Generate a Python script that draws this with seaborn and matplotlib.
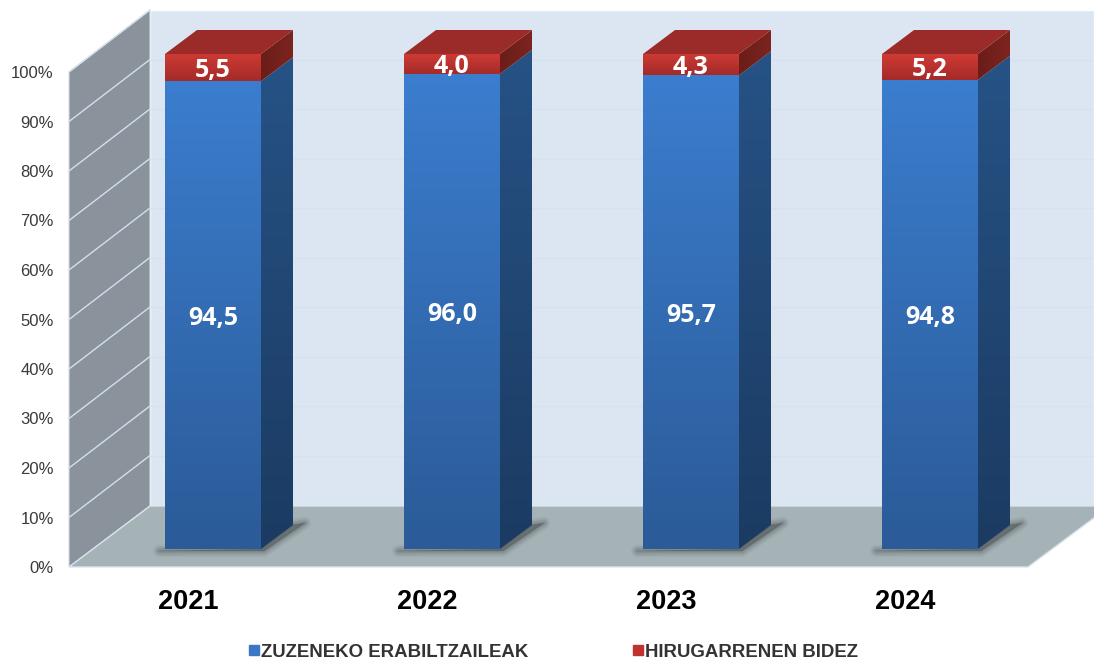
import numpy as np
import pandas as pd
import seaborn as sns
import matplotlib.pyplot as plt
from matplotlib.colors import to_rgb
from matplotlib.lines import Line2D
from matplotlib.patches import Polygon
from matplotlib.transforms import ScaledTranslation

years = ["2021", "2022", "2023", "2024"]
zuzeneko = [94.5, 96.0, 95.7, 94.8]
hirugarren = [5.5, 4.0, 4.3, 5.2]
y_ticks = [0, 10, 20, 30, 40, 50, 60, 70, 80, 90, 100]
serie_names = ["ZUZENEKO ERABILTZAILEAK", "HIRUGARRENEN BIDEZ"]

df = pd.DataFrame({"year": years, "zuzeneko": zuzeneko, "hirugarren": hirugarren})

sns.set_style("white")
plt.rcParams["font.family"] = ["Liberation Sans", "DejaVu Sans"]

W, H = 1094, 660
fig = plt.figure(figsize=(W / 100, H / 100), dpi=100)

# axes box: 0-100% runs along the front plane of the bars
left, right, y0, y100 = 69, 1028, 549, 54
ax = fig.add_axes([left / W, 1 - y0 / H, (right - left) / W, (y0 - y100) / H])


# pixel <-> data helpers for the fake 3D box
def px(x, y):
    return (x - 213) / 239, (y0 - y) / 4.95


def gradient_poly(points, top, bottom, zorder, horizontal=False):
    poly = Polygon(points, closed=True, facecolor="none", edgecolor="none", zorder=zorder, clip_on=False)
    ax.add_patch(poly)
    xs = [p[0] for p in points]
    ys = [p[1] for p in points]
    c = np.linspace(0, 1, 64)[:, None, None]
    img = (1 - c) * np.array(to_rgb(top)) + c * np.array(to_rgb(bottom))
    if horizontal:
        img = img.transpose(1, 0, 2)
    im = ax.imshow(img, extent=[min(xs), max(xs), min(ys), max(ys)], aspect="auto",
                   origin="upper", interpolation="bilinear", zorder=zorder)
    im.set_clip_path(poly)
    im.set_clip_box(fig.bbox)
    return im


# stacked bars
sns.barplot(data=df, x="year", y="zuzeneko", color="#3a78c6", width=0.4017, errorbar=None, ax=ax, zorder=4, linewidth=0)
sns.barplot(data=df, x="year", y="hirugarren", bottom=df["zuzeneko"], color="#bf322f", width=0.4017,
            errorbar=None, ax=ax, zorder=4, linewidth=0)

# walls and floor
ax.add_patch(Polygon([px(150, 10), px(1094, 10), px(1094, 506), px(150, 506)], facecolor="#dce6f2", zorder=0, clip_on=False))
ax.add_patch(Polygon([px(69, 72), px(150, 10), px(150, 506), px(69, 567)], facecolor="#8a929b",
                     edgecolor="#d5deea", linewidth=0.8, zorder=0.5, clip_on=False))
ax.add_patch(Polygon([px(69, 567), px(150, 506), px(1110, 506), px(1028, 567)], facecolor="#a6b3b6",
                     edgecolor="#d9e3ef", linewidth=1, zorder=1, clip_on=False))
for t in y_ticks[1:]:
    ax.plot(*zip(px(69, 567 - 4.95 * t), px(150, 505 - 4.95 * t)), color="#d5dfec", lw=1, zorder=0.7, clip_on=False)
    if t < 100:
        ax.plot(*zip(px(150, 505 - 4.95 * t), px(1094, 505 - 4.95 * t)), color="#d5e1f2", lw=0.8, zorder=0.3, clip_on=False)

# depth of the bars in data units
dx, dy = 32 / 239, 24 / 4.95

for i, bar in enumerate(ax.containers[0]):
    xl, xr = bar.get_x(), bar.get_x() + bar.get_width()
    top = bar.get_height()
    total = top + ax.containers[1][i].get_height()

    # soft shadow on the floor
    sx, sy = 1 / 239, 1 / 4.95
    shadow = [(xl - 6 * sx, -2 * sy), (xr + 3 * sx, -2 * sy), (xr + 44 * sx, dy + 2 * sy), (xr + dx, dy), (xr, 0)]
    for lw, a in [(9, 0.05), (7, 0.07), (5, 0.09), (3, 0.12), (1, 0.15)]:
        ax.add_patch(Polygon(shadow, facecolor="#3c4144", edgecolor="#3c4144", alpha=a, linewidth=lw,
                             joinstyle="round", zorder=2, clip_on=False))

    # front faces
    gradient_poly([(xl, 0), (xr, 0), (xr, top), (xl, top)], "#3b7dce", "#2b5b98", 4.2)
    gradient_poly([(xl, top), (xr, top), (xr, total), (xl, total)], "#d03a34", "#a32b29", 4.2)
    # side faces
    gradient_poly([(xr, 0), (xr + dx, dy), (xr + dx, top + dy), (xr, top)], "#265285", "#1b3b62", 3.8)
    gradient_poly([(xr, top), (xr + dx, top + dy), (xr + dx, total + dy), (xr, total)], "#6b1d18", "#7c2420", 3.8, horizontal=True)
    # top face
    ax.add_patch(Polygon([(xl, total), (xr, total), (xr + dx, total + dy), (xl + dx, total + dy)],
                         facecolor="#9a2b28", edgecolor="none", zorder=3.9, clip_on=False))

# values inside the bars, nudged down a little like the original
for cont, vals, nudge in zip(ax.containers, [zuzeneko, hirugarren], [-2.5, -2.2]):
    labels = [f"{v:.1f}".replace(".", ",") for v in vals]
    for t in ax.bar_label(cont, labels=labels, label_type="center", color="white", fontsize=18,
                          fontweight="bold", family="Open Sans"):
        t.set_zorder(6)
        t.xyann = (0, nudge)

ax.set_xlim(*[(p - 213) / 239 for p in (left, right)])
ax.set_ylim(0, 100)
ax.set_xticks(range(len(years)), years)
ax.set_yticks(y_ticks, [f"{t}%" for t in y_ticks])
ax.set_xlabel("")
ax.set_ylabel("")
ax.tick_params(axis="y", length=0, pad=11, labelsize=12, labelcolor="#3a3a3a")
ax.tick_params(axis="x", length=0, pad=29, labelsize=19.5, labelcolor="black")
for lab in ax.get_xticklabels():
    lab.set_fontweight("bold")
    lab.set_transform(lab.get_transform() + ScaledTranslation(-25 / 100, 0, fig.dpi_scale_trans))
for lab in ax.get_yticklabels():
    lab.set_transform(lab.get_transform() + ScaledTranslation(0, -18 / 100, fig.dpi_scale_trans))
sns.despine(ax=ax, left=True, bottom=True)
ax.patch.set_visible(False)

handles = [Line2D([], [], marker="s", ls="", ms=6.5, color="#3a78c6"),
           Line2D([], [], marker="s", ls="", ms=6.5, color="#bf322f")]
fig.legend(handles, serie_names, ncol=2, loc="center", bbox_to_anchor=(553.5 / W, 1 - 652 / H), frameon=False,
           prop={"size": 13.4, "weight": "bold"}, handlelength=0.55, handletextpad=0.1, columnspacing=5.6,
           labelcolor="#333333")

fig.savefig("out.png", dpi=100)
